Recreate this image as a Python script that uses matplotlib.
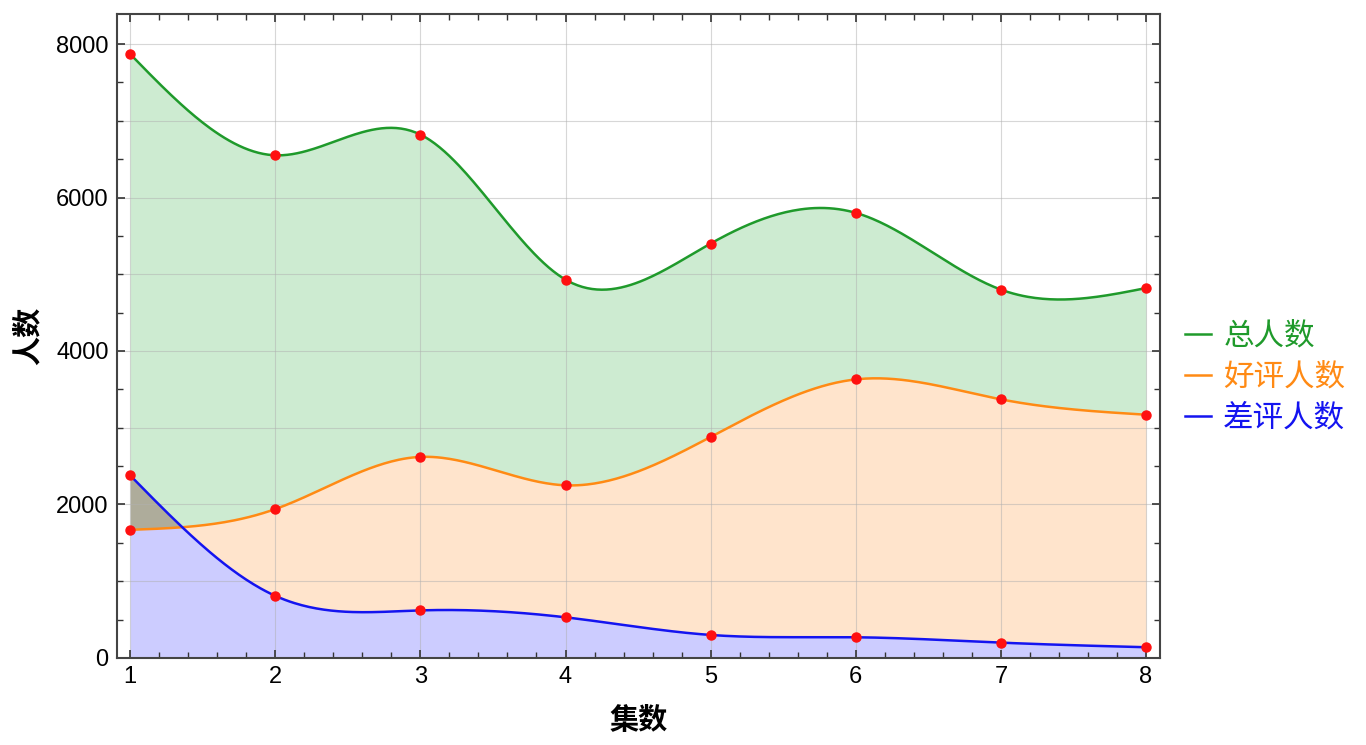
import numpy as np
import matplotlib
matplotlib.use("Agg")
import matplotlib.pyplot as plt
from matplotlib.ticker import MultipleLocator
from matplotlib.lines import Line2D

episodes = [1, 2, 3, 4, 5, 6, 7, 8]
total = [7870, 6550, 6820, 4930, 5400, 5800, 4800, 4820]
good = [1670, 1940, 2620, 2250, 2880, 3630, 3370, 3170]
bad = [2380, 810, 620, 530, 300, 270, 200, 140]
names = ["总人数", "好评人数", "差评人数"]
colors = ["#1f9a2b", "#ff8a14", "#1414f0"]

CJK = ["Noto Sans CJK SC", "DejaVu Sans"]


def smooth(xs, ys, n=60):
    # natural cubic spline through the points
    xs = np.asarray(xs, float)
    ys = np.asarray(ys, float)
    k = len(xs)
    h = np.diff(xs)
    A = np.zeros((k, k))
    r = np.zeros(k)
    A[0, 0] = A[-1, -1] = 1
    for i in range(1, k - 1):
        A[i, i - 1] = h[i - 1]
        A[i, i] = 2 * (h[i - 1] + h[i])
        A[i, i + 1] = h[i]
        r[i] = 6 * ((ys[i + 1] - ys[i]) / h[i] - (ys[i] - ys[i - 1]) / h[i - 1])
    M = np.linalg.solve(A, r)
    out_x, out_y = [], []
    for i in range(k - 1):
        t = np.linspace(0, 1, n, endpoint=(i == k - 2))
        s = 1 - t
        y = s * ys[i] + t * ys[i + 1] + h[i] ** 2 / 6 * ((s**3 - s) * M[i] + (t**3 - t) * M[i + 1])
        out_x.append(xs[i] + t * h[i])
        out_y.append(y)
    return np.concatenate(out_x), np.concatenate(out_y)


def main() -> None:
    fig = plt.figure(figsize=(13.66, 7.45), dpi=100)
    ax = fig.add_axes([0.0857, 0.1168, 0.7635, 0.8644])

    x, g = smooth(episodes, total)
    _, o = smooth(episodes, good)
    _, b = smooth(episodes, bad)

    ax.fill_between(x, g, np.maximum(o, b), color="#cdebd1", lw=0, zorder=1)
    ax.fill_between(x, b, o, where=b > o, interpolate=True, color="#aeac9b", lw=0, zorder=1)
    ax.fill_between(x, o, b, where=o >= b, interpolate=True, color="#ffe4cc", lw=0, zorder=1)
    ax.fill_between(x, 0, np.minimum(o, b), color="#ccccff", lw=0, zorder=1)

    for v in range(1000, 9000, 1000):
        ax.axhline(v, color="#b0b0b0", lw=0.8, alpha=0.5, zorder=1.5)
    for v in episodes:
        ax.axvline(v, color="#b0b0b0", lw=0.8, alpha=0.5, zorder=1.5)

    for ys, c in zip([g, o, b], colors):
        ax.plot(x, ys, color=c, lw=1.8, zorder=2)
    for ys in [total, good, bad]:
        ax.plot(episodes, ys, "o", color="#ff1010", ms=6.5, zorder=3)

    ax.set_xlim(0.91, 8.0965)
    ax.set_ylim(0, 8391)
    ax.xaxis.set_major_locator(MultipleLocator(1))
    ax.xaxis.set_minor_locator(MultipleLocator(0.2))
    ax.yaxis.set_major_locator(MultipleLocator(2000))
    ax.yaxis.set_minor_locator(MultipleLocator(500))
    ax.tick_params(which="both", direction="in", top=True, right=True,
                   color="#333333", labelsize=17, pad=6)
    ax.tick_params(which="major", length=6, width=1.2)
    ax.tick_params(which="minor", length=4, width=1.0)
    for lab in ax.get_xticklabels() + ax.get_yticklabels():
        lab.set_fontfamily("Liberation Sans")
    for s in ax.spines.values():
        s.set_color("#444444")
        s.set_linewidth(1.5)

    ax.set_xlabel("集数", fontsize=21, fontweight="bold", family=CJK, labelpad=12)
    ax.set_ylabel("人数", fontsize=21, fontweight="bold", family=CJK, labelpad=10)

    handles = [Line2D([], [], color=c, lw=1.8) for c in colors]
    leg = fig.legend(handles, names, loc="center left", bbox_to_anchor=(0.8675, 0.494),
                     frameon=False, handlelength=0.85, handletextpad=0.4,
                     borderpad=0, borderaxespad=0,
                     labelspacing=0.32, prop={"family": CJK, "size": 22})
    for t, c in zip(leg.get_texts(), colors):
        t.set_color(c)

    fig.savefig("out.png", dpi=100)


if __name__ == "__main__":
    main()
